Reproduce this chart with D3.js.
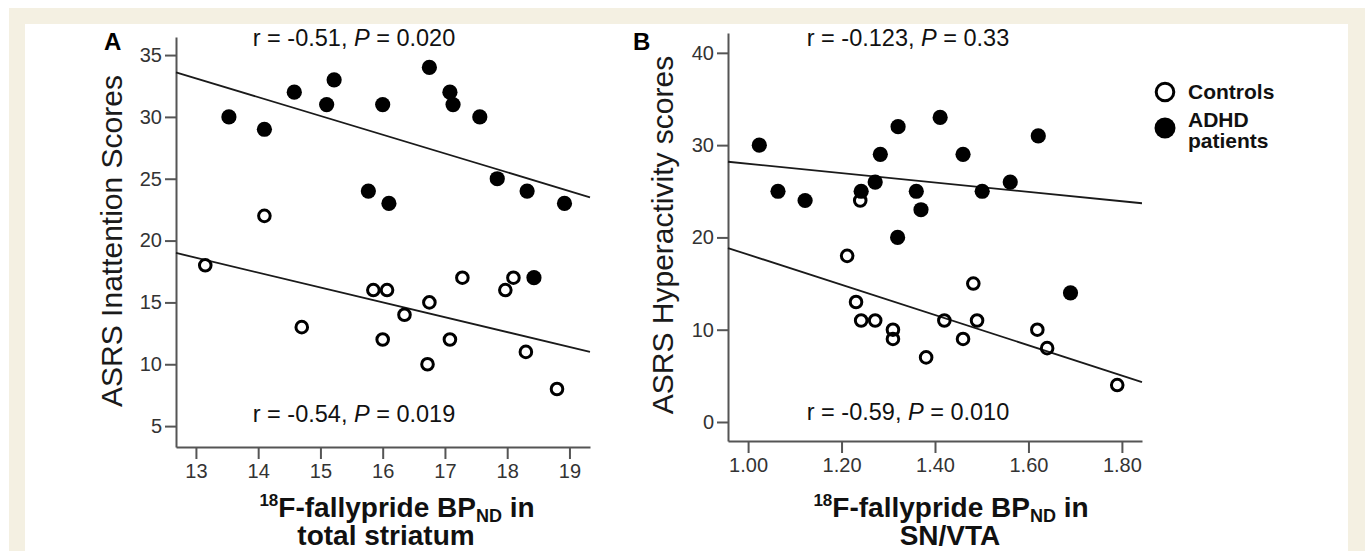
<!DOCTYPE html>
<html><head><meta charset="utf-8">
<script src="https://cdn.jsdelivr.net/npm/d3@7"></script>
<style>
body{margin:0;padding:0;background:#fff;}
svg{display:block;font-family:"Liberation Sans",Arial,sans-serif;}
</style></head>
<body><svg id="chart" width="1365" height="551"></svg>
<script>
// ---- Panel A data: total striatum BPND vs ASRS inattention ----
const aControlsX = [13.15,14.1,14.7,15.85,16.07,16.0,16.35,16.75,16.72,17.08,17.28,17.97,18.1,18.3,18.8];
const aControlsY = [18,22,13,16,16,12,14,15,10,12,17,16,17,11,8];
const aAdhdX = [13.53,14.1,14.58,15.1,15.22,15.77,16.0,16.1,16.75,17.08,17.13,17.56,17.84,18.32,18.92,18.43];
const aAdhdY = [30,29,32,31,33,24,31,23,34,32,31,30,25,24,23,17];
const aFitAdhd = [[12.68,33.6],[19.33,23.5]];
const aFitControls = [[12.68,19.0],[19.33,11.0]];
const aXTicks = [13,14,15,16,17,18,19];
const aYTicks = [5,10,15,20,25,30,35];

// ---- Panel B data: SN/VTA BPND vs ASRS hyperactivity ----
const bControlsX = [1.24,1.212,1.231,1.242,1.272,1.31,1.31,1.381,1.42,1.46,1.482,1.49,1.619,1.64,1.79];
const bControlsY = [24,18,13,11,11,10,9,7,11,9,15,11,10,8,4];
const bAdhdX = [1.024,1.064,1.122,1.242,1.272,1.283,1.321,1.32,1.36,1.37,1.411,1.46,1.501,1.561,1.621,1.69];
const bAdhdY = [30,25,24,25,26,29,32,20,25,23,33,29,25,26,31,14];
const bFitAdhd = [[0.957,28.2],[1.843,23.7]];
const bFitControls = [[0.957,18.85],[1.843,4.33]];
const bXTicks = [1.0,1.2,1.4,1.6,1.8];
const bYTicks = [0,10,20,30,40];

const legendLabels = [["Controls"],["ADHD","patients"]];

const svg = d3.select("#chart");
svg.append("rect").attr("x",0).attr("y",0).attr("width",1365).attr("height",551).attr("fill","#fff");
svg.append("rect").attr("x",9).attr("y",8).attr("width",1356).attr("height",543).attr("fill","#f4f0e2");
svg.append("rect").attr("x",25).attr("y",24).attr("width",1323).attr("height",527).attr("fill","#fff");

function panel(cfg){
  const g = svg.append("g");
  const x = d3.scaleLinear().domain(cfg.xDomain).range(cfg.xRange);
  const y = d3.scaleLinear().domain(cfg.yDomain).range(cfg.yRange);
  const axisColor = "#555";
  const yAx = g.append("g").attr("transform",`translate(${cfg.xRange[0]},0)`)
    .call(d3.axisLeft(y).tickValues(cfg.yTicks).tickSize(11).tickPadding(3).tickSizeOuter(0));
  const xAx = g.append("g").attr("transform",`translate(0,${cfg.yRange[0]})`)
    .call(d3.axisBottom(x).tickValues(cfg.xTicks).tickFormat(cfg.xFmt).tickSize(12).tickPadding(5).tickSizeOuter(0));
  [yAx,xAx].forEach(a=>{
    a.select(".domain").attr("stroke",axisColor).attr("stroke-width",2);
    a.selectAll(".tick line").attr("stroke",axisColor).attr("stroke-width",2);
    a.selectAll(".tick text").attr("fill","#333").attr("font-size",20).attr("font-family","Liberation Sans, Arial, sans-serif");
  });
  // fit lines
  const line = d3.line().x(d=>x(d[0])).y(d=>y(d[1]));
  [cfg.fitAdhd,cfg.fitControls].forEach(f=>{
    g.append("path").attr("d",line(f)).attr("fill","none").attr("stroke","#1a1a1a").attr("stroke-width",1.8);
  });
  // points
  const ctrl = cfg.cx.map((v,i)=>[v,cfg.cy[i]]);
  const adhd = cfg.ax.map((v,i)=>[v,cfg.ay[i]]);
  g.selectAll(".ad").data(adhd).enter().append("circle")
    .attr("cx",d=>x(d[0])).attr("cy",d=>y(d[1])).attr("r",7.6).attr("fill","#000");
  g.selectAll(".ct").data(ctrl).enter().append("circle")
    .attr("cx",d=>x(d[0])).attr("cy",d=>y(d[1])).attr("r",5.8).attr("fill","none")
    .attr("stroke","#000").attr("stroke-width",3);
  // panel letter
  g.append("text").attr("x",cfg.letterX).attr("y",50).attr("font-size",24).attr("font-weight","bold").attr("fill","#000").text(cfg.letter);
  // annotations
  cfg.annots.forEach(a=>{
    const t = g.append("text").attr("x",a.x).attr("y",a.y).attr("text-anchor","middle").attr("font-size",23.5).attr("fill","#111");
    t.append("tspan").text(a.r + ", ");
    t.append("tspan").attr("font-style","italic").text("P");
    t.append("tspan").text(" = " + a.p);
  });
  // y title
  g.append("text").attr("transform",`translate(${cfg.yTitleX},${cfg.yTitleY}) rotate(-90)`)
    .attr("text-anchor","middle").attr("font-size",30).attr("fill","#1a1a1a").text(cfg.yTitle);
  // x title
  const t1 = g.append("text").attr("x",cfg.xTitleX1).attr("y",517).attr("text-anchor","middle")
    .attr("font-size",28).attr("font-weight","bold").attr("fill","#111");
  t1.append("tspan").attr("font-size",17).attr("dy",-11).text("18");
  t1.append("tspan").attr("dy",11).text("F-fallypride BP");
  t1.append("tspan").attr("font-size",18).attr("dy",5).text("ND");
  t1.append("tspan").attr("dy",-5).text(" in");
  g.append("text").attr("x",cfg.xTitleX2).attr("y",545).attr("text-anchor","middle")
    .attr("font-size",28).attr("font-weight","bold").attr("fill","#111").text(cfg.xTitle2);
}

panel({
  xDomain:[12.68,19.33], xRange:[176,590], yDomain:[3.31,36.46], yRange:[447,37],
  xTicks:aXTicks, yTicks:aYTicks, xFmt:d3.format("d"),
  cx:aControlsX, cy:aControlsY, ax:aAdhdX, ay:aAdhdY,
  fitAdhd:aFitAdhd, fitControls:aFitControls,
  letter:"A", letterX:104,
  annots:[{x:354,y:46,r:"r = -0.51",p:"0.020"},{x:354,y:422,r:"r = -0.54",p:"0.019"}],
  yTitle:"ASRS Inattention Scores", yTitleX:122, yTitleY:241,
  xTitleX1:397, xTitleX2:386, xTitle2:"total striatum"
});
panel({
  xDomain:[0.957,1.843], xRange:[728,1142], yDomain:[-2.06,42.15], yRange:[441,33],
  xTicks:bXTicks, yTicks:bYTicks, xFmt:d3.format(".2f"),
  cx:bControlsX, cy:bControlsY, ax:bAdhdX, ay:bAdhdY,
  fitAdhd:bFitAdhd, fitControls:bFitControls,
  letter:"B", letterX:633,
  annots:[{x:908,y:46,r:"r = -0.123",p:"0.33"},{x:908,y:420,r:"r = -0.59",p:"0.010"}],
  yTitle:"ASRS Hyperactivity scores", yTitleX:673, yTitleY:235,
  xTitleX1:951, xTitleX2:950, xTitle2:"SN/VTA"
});

// legend
const lg = svg.append("g");
lg.append("circle").attr("cx",1165).attr("cy",92).attr("r",8.8).attr("fill","none").attr("stroke","#000").attr("stroke-width",3);
lg.append("circle").attr("cx",1165).attr("cy",128).attr("r",10.5).attr("fill","#000");
const lgY = [[99],[127,148]];
legendLabels.forEach((lines,i)=>{
  lines.forEach((s,j)=>{
    lg.append("text").attr("x",1188).attr("y",lgY[i][j]).attr("font-size",21).attr("font-weight","bold").attr("fill","#111").text(s);
  });
});
</script></body></html>
